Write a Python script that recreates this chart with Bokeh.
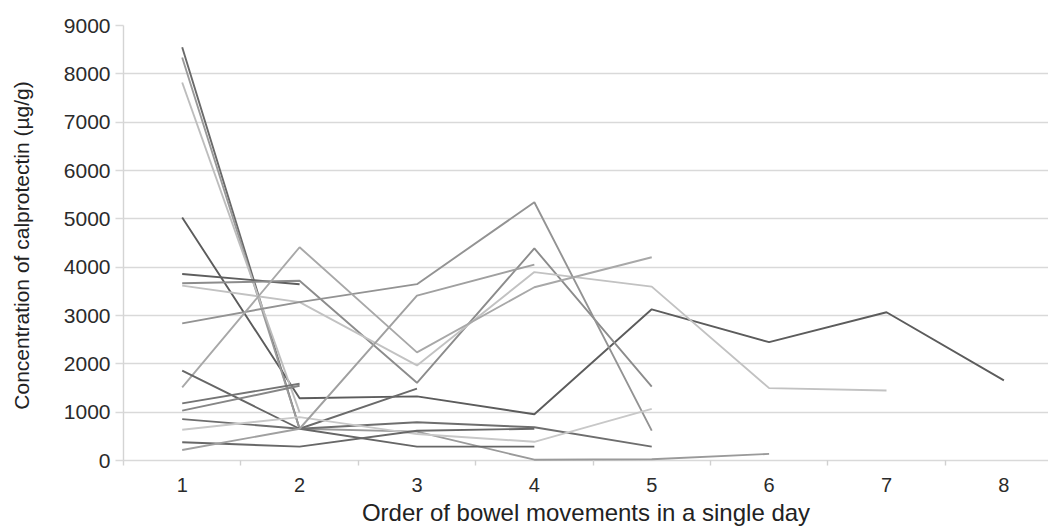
from bokeh.plotting import figure
from bokeh.models import FixedTicker, Range1d
from bokeh.embed import file_html
from bokeh.resources import INLINE

# Order of bowel movements within a single day
order = [1, 2, 3, 4, 5, 6, 7, 8]
order_labels = ["1", "2", "3", "4", "5", "6", "7", "8"]
y_ticks = [0, 1000, 2000, 3000, 4000, 5000, 6000, 7000, 8000, 9000]

# Calprotectin concentration (µg/g) per patient, one value per bowel movement
patient_01 = [5030, 1290, 1330, 960, 3130, 2450, 3070, 1660]
patient_02 = [8550, 660, 1490]
patient_03 = [8340, 660, 600, 20, 30, 140]
patient_04 = [7820, 1000]
patient_05 = [3860, 3650]
patient_06 = [3670, 3720, 1610, 4390, 1530]
patient_07 = [3620, 3280, 1970, 3900, 3600, 1500, 1450]
patient_08 = [2840, 3280, 3650, 5345, 620]
patient_09 = [1517, 4414, 2240, 3586, 4207]
patient_10 = [1862, 660, 290, 290]
patient_11 = [1186, 1590]
patient_12 = [1034, 1550]
patient_13 = [860, 660, 793, 690, 290]
patient_14 = [640, 900, 550, 390, 1070]
patient_15 = [380, 290, 620, 660]
patient_16 = [220, 660, 3414, 4055]

series = [patient_01, patient_02, patient_03, patient_04, patient_05, patient_06,
          patient_07, patient_08, patient_09, patient_10, patient_11, patient_12,
          patient_13, patient_14, patient_15, patient_16]
colors = ["#5c5c5c", "#6a6a6a", "#9a9a9a", "#bdbdbd", "#5e5e5e", "#8c8c8c",
          "#c2c2c2", "#939393", "#a8a8a8", "#666666", "#747474", "#868686",
          "#6e6e6e", "#c8c8c8", "#686868", "#a0a0a0"]

FONT = "Liberation Sans"

p = figure(width=1048, height=531, output_backend="svg", toolbar_location=None,
           x_range=Range1d(0.5, 8.38), y_range=Range1d(-100, 9000),
           min_border_left=123, min_border_top=25, min_border_right=0,
           min_border_bottom=66)
p.outline_line_color = None
p.background_fill_color = "white"

for s, c in zip(series, colors):
    p.line(order[:len(s)], s, line_color=c, line_width=1.9)

# y axis
p.yaxis.ticker = FixedTicker(ticks=y_ticks)
p.ygrid.ticker = FixedTicker(ticks=y_ticks)
p.ygrid.grid_line_color = "#d9d9d9"
p.ygrid.grid_line_width = 1.4
p.xgrid.grid_line_color = None
p.yaxis.axis_line_color = "#d4d4d4"
p.yaxis.axis_line_width = 1.4
p.yaxis.major_tick_out = 8
p.yaxis.major_tick_in = 0
p.yaxis.major_tick_line_color = "#d9d9d9"
p.yaxis.major_tick_line_width = 1.4
p.yaxis.minor_tick_line_color = None
p.yaxis.major_label_text_font = FONT
p.yaxis.major_label_text_font_size = "21px"
p.yaxis.major_label_text_color = "#2b2b2b"
p.yaxis.major_label_standoff = 5
p.yaxis.axis_label = "Concentration of calprotectin (µg/g)"
p.yaxis.axis_label_text_font = FONT
p.yaxis.axis_label_text_font_size = "21px"
p.yaxis.axis_label_text_font_style = "normal"
p.yaxis.axis_label_text_color = "#222222"
p.yaxis.axis_label_standoff = 28

# x axis
p.xaxis.ticker = FixedTicker(ticks=order, minor_ticks=[1.5, 2.5, 3.5, 4.5, 5.5, 6.5, 7.5])
p.xaxis.major_label_overrides = {o: l for o, l in zip(order, order_labels)}
p.xaxis.axis_line_color = None
p.xaxis.major_tick_in = 0
p.xaxis.major_tick_out = 0
p.xaxis.minor_tick_in = 5
p.xaxis.minor_tick_out = 0
p.xaxis.minor_tick_line_color = "#d0d0d0"
p.xaxis.minor_tick_line_width = 1.4
p.xaxis.major_label_text_font = FONT
p.xaxis.major_label_text_font_size = "20px"
p.xaxis.major_label_text_color = "#2b2b2b"
p.xaxis.major_label_standoff = 12
p.xaxis.axis_label = "Order of bowel movements in a single day"
p.xaxis.axis_label_text_font = FONT
p.xaxis.axis_label_text_font_size = "24px"
p.xaxis.axis_label_text_font_style = "normal"
p.xaxis.axis_label_text_color = "#222222"
p.xaxis.axis_label_standoff = 4

open("out.html", "w").write(file_html(p, INLINE))
